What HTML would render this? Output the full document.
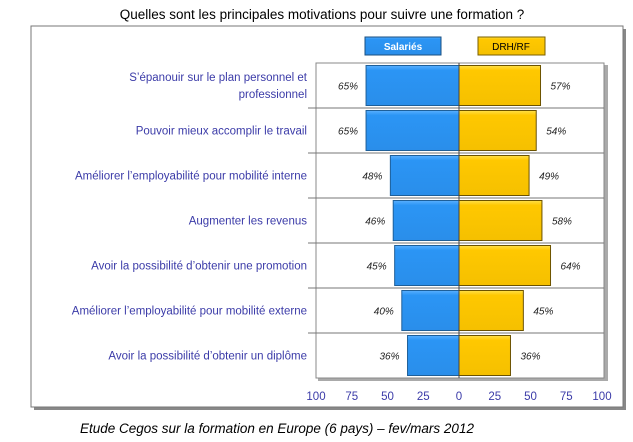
<!DOCTYPE html>
<html><head><meta charset="utf-8"><style>
body{margin:0;width:633px;height:442px;background:#fff;position:relative;overflow:hidden;font-family:"Liberation Sans",sans-serif}
</style></head><body>
<svg width="633" height="442" style="position:absolute;left:0;top:0">
<defs>
<linearGradient id="gb" x1="0" y1="0" x2="0" y2="1"><stop offset="0" stop-color="#5ab0ff"/><stop offset="0.12" stop-color="#2b95f5"/><stop offset="1" stop-color="#2a8eea"/></linearGradient>
<linearGradient id="gy" x1="0" y1="0" x2="0" y2="1"><stop offset="0" stop-color="#ffe04a"/><stop offset="0.12" stop-color="#ffc800"/><stop offset="1" stop-color="#f5c000"/></linearGradient>
</defs>
<text x="322" y="19" text-anchor="middle" font-size="13.5" fill="#000">Quelles sont les principales motivations pour suivre une formation ?</text>
<rect x="34" y="29" width="592" height="381" fill="#888"/>
<rect x="31" y="26" width="592" height="381" fill="#fff" stroke="#777" stroke-width="1"/>
<rect x="318" y="65" width="290" height="316" fill="#aaa"/>
<rect x="316" y="63" width="288" height="315" fill="#fff" stroke="#888" stroke-width="1"/>
<g>
<rect x="365" y="37" width="76" height="18" fill="url(#gb)" stroke="#1a4f80"/>
<text x="403" y="50" text-anchor="middle" font-size="10" font-weight="bold" fill="#fff">Salariés</text>
<rect x="478" y="37" width="67" height="18" fill="url(#gy)" stroke="#7a5f00"/>
<text x="511" y="50" text-anchor="middle" font-size="10" fill="#000">DRH/RF</text>
</g>
<g id="bars"></g>
</svg>
<div style="position:absolute;left:80px;top:421px;font-size:13.5px;font-style:italic;color:#000">Etude Cegos sur la formation en Europe (6 pays) – fev/mars 2012</div>
<script>
const categories=["S’épanouir sur le plan personnel et|professionnel","Pouvoir mieux accomplir le travail","Améliorer l’employabilité pour mobilité interne","Augmenter les revenus","Avoir la possibilité d’obtenir une promotion","Améliorer l’employabilité pour mobilité externe","Avoir la possibilité d’obtenir un diplôme"];
const salaries=[65,65,48,46,45,40,36];
const drh=[57,54,49,58,64,45,36];
const ticks=[100,75,50,25,0,25,50,75,100];
const NS="http://www.w3.org/2000/svg";
const g=document.getElementById('bars');
const x0=459,scale=1.43,top0=63,rowH=45,barH=40;
function xs(v){return v*scale;}
function el(t,a){const e=document.createElementNS(NS,t);for(const k in a)e.setAttribute(k,a[k]);g.appendChild(e);return e;}
categories.forEach((c,i)=>{
 const cy=top0+rowH*i+rowH/2;
 if(i>0){const l=el('line',{x1:308,x2:604,y1:top0+rowH*i,y2:top0+rowH*i,stroke:'#777','stroke-width':1});
 
 }
 const lines=c.split('|');
 lines.forEach((s,j)=>{const t=el('text',{x:307,y:cy+4+(j-(lines.length-1)/2)*17,'text-anchor':'end','font-size':'11.5',fill:'#3b3ba8'});t.textContent=s;
 
 });
 const ws=xs(salaries[i]);
 const b1=el('rect',{x:x0-ws,y:cy-barH/2,width:ws,height:barH,fill:'url(#gb)',stroke:'#1e5f99','stroke-width':1});
 
 
 const wd=xs(drh[i]);
 const b2=el('rect',{x:x0,y:cy-barH/2,width:wd,height:barH,fill:'url(#gy)',stroke:'#6b5200','stroke-width':1});
 
 
 const t1=el('text',{x:x0-ws-8,y:cy+4,'text-anchor':'end','font-size':'10','font-style':'italic',fill:'#222'});t1.textContent=salaries[i]+'%';
 
 
 const t2=el('text',{x:x0+wd+10,y:cy+4,'font-size':'10','font-style':'italic',fill:'#222'});t2.textContent=drh[i]+'%';
 
 
});
const ax=el('line',{x1:x0,x2:x0,y1:top0,y2:378,stroke:'#444','stroke-width':1});


ticks.forEach((v,i)=>{const t=el('text',{x:x0+(i-4)*25*scale,y:400,'text-anchor':'middle','font-size':'11.5',fill:'#3b3ba8'});t.textContent=v;
 
 });
</script>
</body></html>
